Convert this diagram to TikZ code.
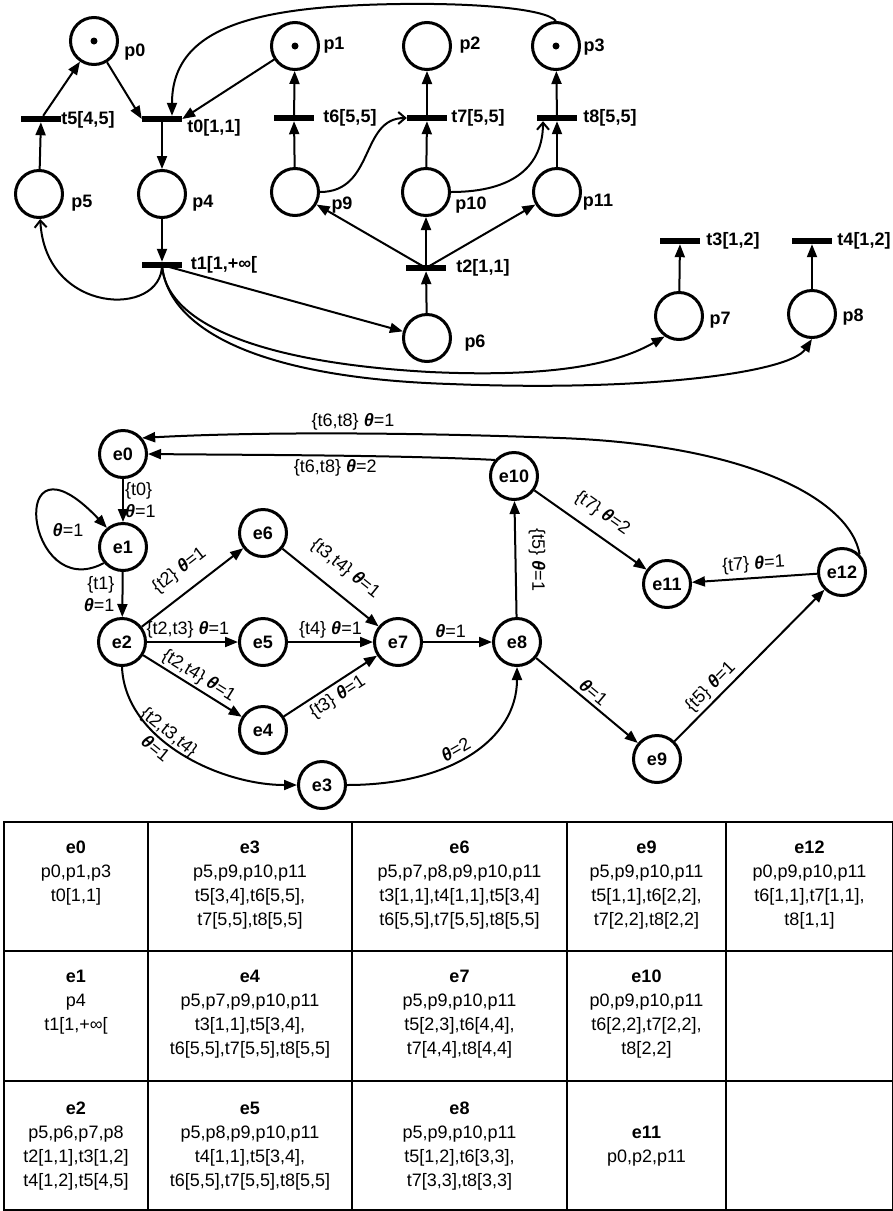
\documentclass[tikz,border=0pt]{standalone}
\usepackage{fontspec}
\setmainfont{Liberation Sans}
\usetikzlibrary{arrows.meta}
\newcommand\myth{\textbf{\textit{θ}}}
\begin{document}
\begin{tikzpicture}[x=1pt,y=-1pt,
  place/.style={circle, draw, line width=3pt, minimum size=47pt, inner sep=0pt},
  trans/.style={rectangle, fill=black, minimum width=40pt, minimum height=6pt, inner sep=0pt},
  pl/.style={font=\fontsize{18}{22}\selectfont\bfseries, inner sep=0pt},
  arr/.style={line width=2pt, -{Triangle[length=13pt,width=10pt]}},
  oarr/.style={line width=2pt, -{Straight Barb[length=7pt,width=12pt]}},
  state/.style={circle, draw, line width=3pt, minimum size=47pt, inner sep=0pt, font=\fontsize{18}{22}\selectfont\bfseries},
  el/.style={font=\fontsize{18}{22}\selectfont, inner sep=1pt},
  cell/.style={font=\fontsize{18}{24}\selectfont, align=center, anchor=north, inner sep=0pt},
  tbl/.style={line width=2pt}]
\useasboundingbox (0,0) rectangle (893,1211);
% ---------- Petri net ----------
\node[place] (p0) at (94,41) {};
\node[place] (p1) at (295,46) {};
\node[place] (p2) at (427,46) {};
\node[place] (p3) at (556,46) {};
\node[place] (p5) at (39,194) {};
\node[place] (p4) at (162,194) {};
\node[place] (p9) at (295,192) {};
\node[place] (p10) at (426,192) {};
\node[place] (p11) at (557,192) {};
\node[place] (p6) at (427,338) {};
\node[place] (p7) at (679,316) {};
\node[place] (p8) at (812,314) {};
\fill (p0.center) circle[radius=3.5pt];
\fill (p1.center) circle[radius=3.5pt];
\fill (p3.center) circle[radius=3.5pt];
\node[trans] (t5) at (41,119) {};
\node[trans] (t0) at (162,119) {};
\node[trans] (t6) at (294,118) {};
\node[trans] (t7) at (427,118) {};
\node[trans] (t8) at (557,118) {};
\node[trans] (t1) at (162,265) {};
\node[trans] (t2) at (426,268) {};
\node[trans] (t3) at (680,241) {};
\node[trans] (t4) at (812,241) {};
% labels
\node[pl] (lp0) at (135,52) {p0};
\node[pl] (lp1) at (334,45) {p1};
\node[pl] (lp2) at (470,45) {p2};
\node[pl] (lp3) at (594,47) {p3};
\node[pl] (lp5) at (82,203) {p5};
\node[pl] (lp4) at (203,203) {p4};
\node[pl] (lp9) at (342,205) {p9};
\node[pl] (lp10) at (471,205) {p10};
\node[pl] (lp11) at (598,202) {p11};
\node[pl] (lp6) at (475,343) {p6};
\node[pl] (lp7) at (720,320) {p7};
\node[pl] (lp8) at (853,317) {p8};
\node[pl] (lt5) at (88,120) {t5[4,5]};
\node[pl] (lt0) at (214,128) {t0[1,1]};
\node[pl] (lt6) at (350,118) {t6[5,5]};
\node[pl] (lt7) at (478,118) {t7[5,5]};
\node[pl] (lt8) at (610,118) {t8[5,5]};
\node[pl] (lt1) at (224,265) {t1[1,+∞[};
\node[pl] (lt2) at (483,268) {t2[1,1]};
\node[pl] (lt3) at (733,241) {t3[1,2]};
\node[pl] (lt4) at (864,241) {t4[1,2]};
% arcs
\draw[arr] (p5) -- (t5);
\draw[arr] (t5) -- (p0);
\draw[arr] (p0) -- (t0.west);
\draw[arr] (p1) -- (t0.east);
\draw[arr] (p3.north) .. controls (545,8) and (470,3) .. (400,4) .. controls (260,6) and (172,25) .. ([xshift=10pt]t0.north);
\draw[arr] (t0) -- (p4);
\draw[arr] (p4) -- (t1);
\draw[oarr] (t1.center) .. controls (162,318) and (45,315) .. (p5);
\draw[arr] (t1.center) -- (p6);
\draw[arr] (t1.center) .. controls (165,320) and (250,362) .. (430,372) .. controls (560,378) and (620,362) .. (p7.235);
\draw[arr] (t1.center) .. controls (168,330) and (260,378) .. (450,384) .. controls (650,392) and (790,372) .. (p8.south);
\draw[arr] (p6) -- (t2);
\draw[arr] (t2.center) -- (p9);
\draw[arr] (t2) -- (p10);
\draw[arr] (t2.center) -- (p11);
\draw[arr] (p9) -- (t6);
\draw[arr] (t6) -- (p1);
\draw[arr] (p10) -- (t7);
\draw[arr] (t7) -- (p2);
\draw[arr] (p11) -- (t8);
\draw[arr] (t8) -- (p3);
\draw[oarr] (p9.east) .. controls (375,192) and (360,118) .. (t7.west);
\draw[oarr] (p10.east) .. controls (515,192) and (543,165) .. ([xshift=-14pt]t8.south);
\draw[arr] (p7) -- (t3);
\draw[arr] (p8) -- (t4);
% ---------- state graph ----------
\node[state] (e0) at (123,454) {e0};
\node[state] (e1) at (123,547) {e1};
\node[state] (e2) at (122,642) {e2};
\node[state] (e6) at (263,533) {e6};
\node[state] (e5) at (263,642) {e5};
\node[state] (e4) at (263,730) {e4};
\node[state] (e3) at (322,785) {e3};
\node[state] (e7) at (398,642) {e7};
\node[state] (e8) at (517,642) {e8};
\node[state] (e9) at (657,759) {e9};
\node[state] (e10) at (514,476) {e10};
\node[state] (e11) at (667,584) {e11};
\node[state] (e12) at (842,572) {e12};
\draw[arr] (e0) -- node[el, right, align=left]{\{t0\}\\\myth=1} (e1);
\draw[arr] (e1.220) .. controls (25,605) and (5,420) .. (e1.130);
\node[el] (lloop) at (68,530) {\myth=1};
\draw[arr] (e1) -- node[el, left, align=right, xshift=-6pt]{\{t1\}\\\myth=1} (e2);
\draw[arr] (e2) -- node[el, sloped, above=11pt]{\{t2\} \myth=1} (e6);
\draw[arr] (e2) -- node[el, above=2pt, pos=0.45]{\{t2,t3\} \myth=1} (e5);
\draw[arr] (e2) -- node[el, sloped, above=1pt]{\{t2,t4\} \myth=1} (e4);
\draw[arr] (e2.south) .. controls (125,740) and (220,785) .. (e3.west) node[el, sloped, pos=0.4, align=center]{\{t2,t3,t4\}\\\myth=1};
\draw[arr] (e6) -- node[el, sloped, above=13pt]{\{t3,t4\} \myth=1} (e7);
\draw[arr] (e5) -- node[el, above=2pt]{\{t4\} \myth=1} (e7);
\draw[arr] (e4) -- node[el, sloped, below=3pt]{\{t3\} \myth=1} (e7);
\draw[arr] (e3.east) .. controls (450,785) and (517,740) .. (e8.south) node[el, sloped, pos=0.45, above=3pt]{\myth=2};
\draw[arr] (e7) -- node[el, above=2pt, pos=0.4]{\myth=1} (e8);
\draw[arr] (e8) -- (e10);
\node[el, rotate=-90] (l810) at (537,560) {\{t5\} \myth=1};
\draw[arr] (e8) -- node[el, sloped, above=2pt]{\myth=1} (e9);
\draw[arr] (e9) -- node[el, sloped, above=2pt, pos=0.3]{\{t5\} \myth=1} (e12);
\draw[arr] (e12) -- node[el, sloped, above=3pt]{\{t7\} \myth=1} (e11);
\draw[arr] (e10) -- node[el, sloped, above=10pt]{\{t7\} \myth=2} (e11);
\draw[arr] (e10.140) .. controls (400,455) and (250,455) .. (e0.east) node[el, pos=0.47, below=2pt]{\{t6,t8\} \myth=2};
\draw[arr] (e12.45) .. controls (850,500) and (750,445) .. (560,438) .. controls (400,432) and (250,432) .. (e0.40) node[el, pos=0.45, above=1pt]{\{t6,t8\} \myth=1};
% ---------- table ----------
\draw[tbl] (4,822) rectangle (893,1210);
\draw[tbl] (4,951) -- (893,951);
\draw[tbl] (4,1081) -- (893,1081);
\draw[tbl] (148,822) -- (148,1210);
\draw[tbl] (352,822) -- (352,1210);
\draw[tbl] (567,822) -- (567,1210);
\draw[tbl] (726,822) -- (726,1210);
\node[cell] (c0) at (76,841) {\textbf{e0}\\p0,p1,p3\\t0[1,1]};
\node[cell] (c3) at (250,841) {\textbf{e3}\\p5,p9,p10,p11\\t5[3,4],t6[5,5],\\t7[5,5],t8[5,5]};
\node[cell] (c6) at (459.5,841) {\textbf{e6}\\p5,p7,p8,p9,p10,p11\\t3[1,1],t4[1,1],t5[3,4]\\t6[5,5],t7[5,5],t8[5,5]};
\node[cell] (c9) at (646.5,841) {\textbf{e9}\\p5,p9,p10,p11\\t5[1,1],t6[2,2],\\t7[2,2],t8[2,2]};
\node[cell] (c12) at (809.5,841) {\textbf{e12}\\p0,p9,p10,p11\\t6[1,1],t7[1,1],\\t8[1,1]};
\node[cell] (c1) at (76,970) {\textbf{e1}\\p4\\t1[1,+∞[};
\node[cell] (c4) at (250,970) {\textbf{e4}\\p5,p7,p9,p10,p11\\t3[1,1],t5[3,4],\\t6[5,5],t7[5,5],t8[5,5]};
\node[cell] (c7) at (459.5,970) {\textbf{e7}\\p5,p9,p10,p11\\t5[2,3],t6[4,4],\\t7[4,4],t8[4,4]};
\node[cell] (c10) at (646.5,970) {\textbf{e10}\\p0,p9,p10,p11\\t6[2,2],t7[2,2],\\t8[2,2]};
\node[cell] (c2) at (76,1102) {\textbf{e2}\\p5,p6,p7,p8\\t2[1,1],t3[1,2]\\t4[1,2],t5[4,5]};
\node[cell] (c5) at (250,1102) {\textbf{e5}\\p5,p8,p9,p10,p11\\t4[1,1],t5[3,4],\\t6[5,5],t7[5,5],t8[5,5]};
\node[cell] (c8) at (459.5,1102) {\textbf{e8}\\p5,p9,p10,p11\\t5[1,2],t6[3,3],\\t7[3,3],t8[3,3]};
\node[cell] (c11) at (646.5,1126) {\textbf{e11}\\p0,p2,p11};
\end{tikzpicture}
\end{document}
